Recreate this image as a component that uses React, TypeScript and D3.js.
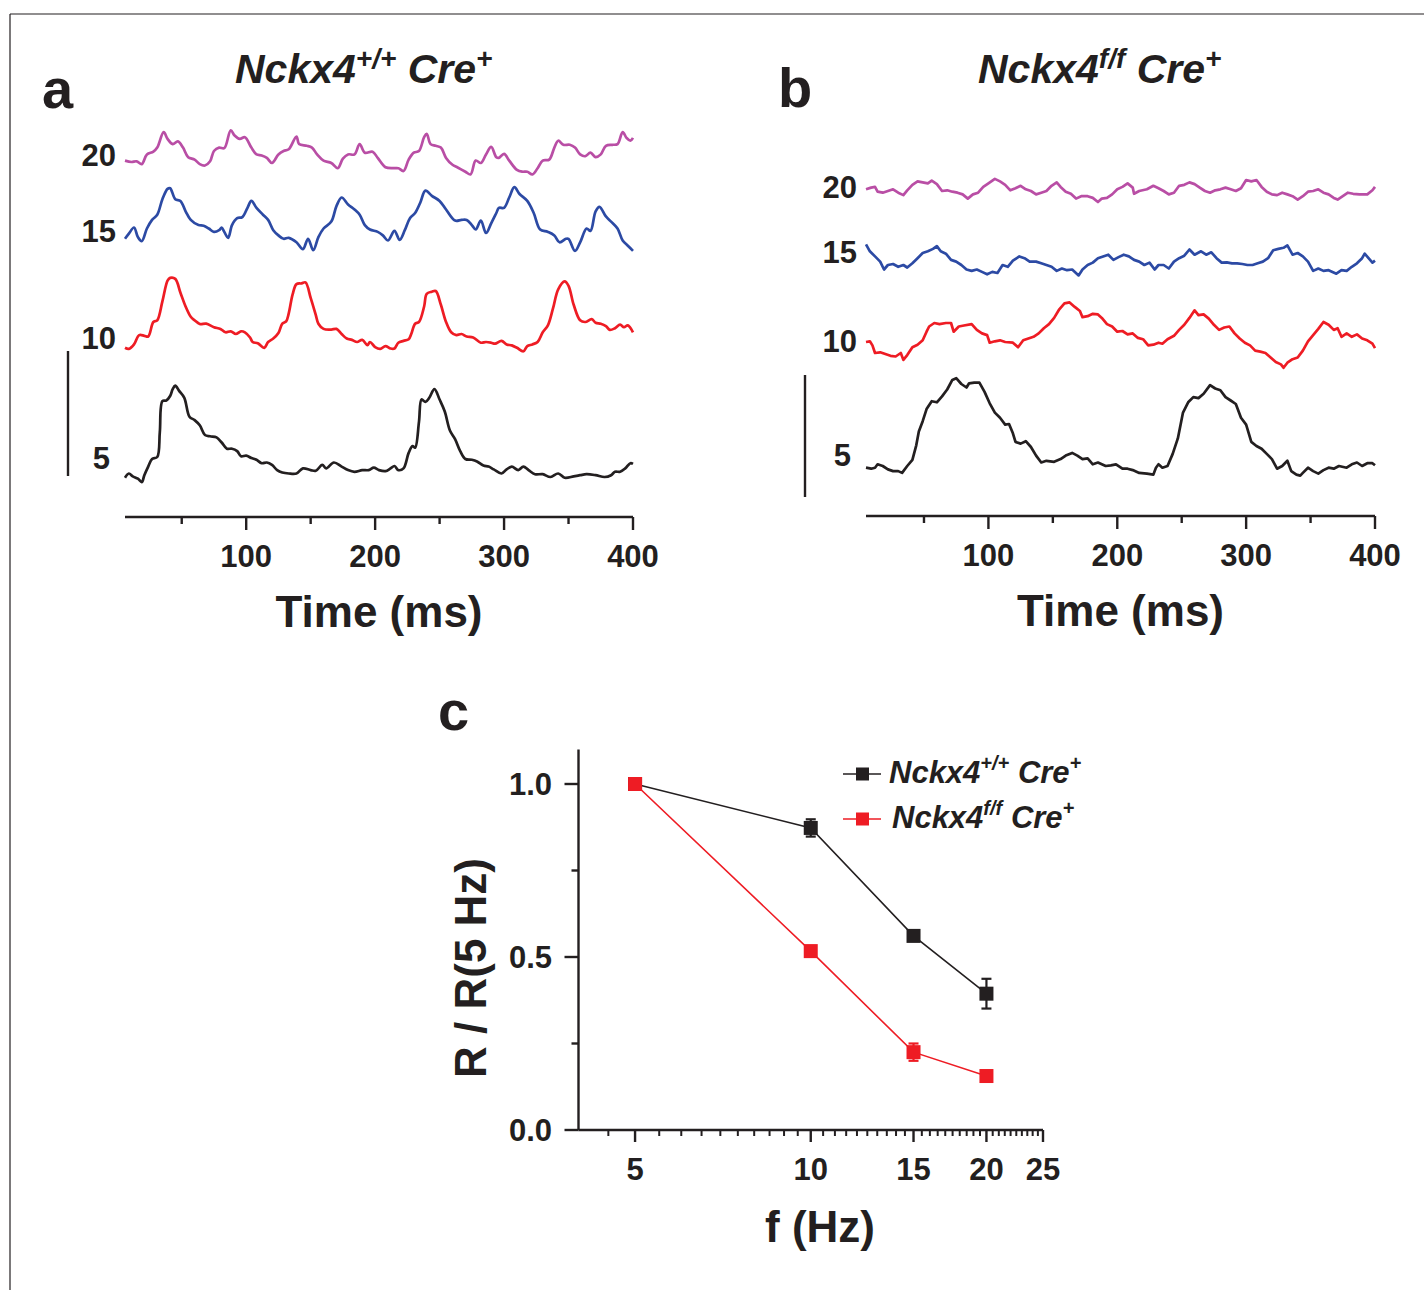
import React from "react";
import * as d3 from "d3";

// ---------- Panel a: Nckx4+/+ Cre+ traces (time ms, amplitude a.u.) ----------
const traceA20: [number, number][] = [[6,339.4],[11,338],[15,338.7],[19,335.9],[23,345.6],[28,348.3],[31,352.4],[36,367.9],[39,361.1],[43,355.9],[47,358.6],[51,352.4],[55,342.8],[60,340.4],[64,335.9],[68,334.5],[72,338.7],[75,349],[79,352.4],[83,351.8],[88,369.7],[91,364.5],[95,361.1],[99,362.8],[104,352.4],[108,345.6],[112,344.5],[116,342.1],[120,337],[125,345.6],[129,349],[133,350.7],[139,363.5],[141,355.9],[147,354.2],[151,352.4],[155,345.6],[160,339.4],[166,337],[171,331.8],[175,341.4],[179,345.6],[184,345.6],[188,355.9],[192,347.3],[198,348.3],[202,342.1],[208,332.8],[214,331.8],[218,331.8],[222,329],[226,340.4],[230,347.3],[234,349],[238,362.8],[240,366.2],[243,355.9],[247,354.2],[251,352.4],[255,342.1],[260,335.2],[264,332.5],[270,328.3],[274,325.6],[278,339.4],[282,337],[286,345.6],[290,353.1],[294,342.8],[296,342.1],[300,346.2],[304,339.4],[310,330.1],[314,328.3],[318,328.3],[322,325.6],[326,331.8],[330,339.4],[335,340.4],[339,352.4],[342,359.3],[346,355.2],[351,355.2],[355,352.4],[359,345.6],[363,343.8],[367,347.3],[371,342.8],[375,345.6],[379,354.2],[384,355.2],[388,355.9],[392,367.9],[395,362.1],[398,359.3],[400,362.1]];
const traceA15: [number, number][] = [[6,261.2],[9,266.3],[13,272.5],[16,262.9],[19,258.8],[23,271.5],[27,280.1],[31,285.3],[35,300.8],[39,311.1],[41,311.8],[45,300.8],[49,299.1],[53,288.7],[57,280.1],[63,274.9],[67,274.3],[71,271.5],[75,268.1],[79,269.8],[81,272.5],[83,268.1],[86,262.2],[89,274.9],[93,281.8],[97,282.9],[101,292.2],[104,299.1],[108,292.2],[113,285.3],[117,280.1],[121,269.8],[125,264.6],[129,261.2],[133,262.2],[139,257.7],[144,250.9],[148,261.2],[152,249.8],[156,262.9],[160,271.5],[166,278.4],[170,293.9],[174,302.5],[179,295.6],[184,290.5],[188,285.3],[192,274.9],[196,270.5],[202,268.1],[206,264.6],[210,259.5],[215,269.1],[219,260.1],[223,269.8],[227,281.8],[231,287],[235,297.3],[239,309.4],[244,304.2],[250,299.1],[255,290.5],[262,279.4],[267,280.1],[271,280.1],[275,274.9],[278,270.5],[282,279.4],[286,267],[290,276.7],[294,287],[296,292.2],[300,292.2],[304,302.5],[308,312.8],[312,306],[318,299.1],[323,287],[328,270.5],[334,268.1],[339,264.6],[343,257.7],[348,261.2],[350,261.2],[355,249.1],[359,257.7],[364,271.5],[367,269.1],[371,288.7],[374,293.2],[379,283.6],[383,278.4],[388,271.5],[392,259.5],[396,254.3],[400,249.1]];
const traceA10: [number, number][] = [[6,152.2],[9,151.1],[13,155.6],[17,164.9],[21,164.2],[24,163.5],[28,178],[31,179.7],[35,198.7],[39,219.3],[41,222.1],[45,221.1],[49,207.3],[53,193.5],[57,183.2],[60,179.7],[64,176],[69,176.3],[75,172.8],[80,171.1],[84,167.7],[88,168.7],[92,166],[96,168.7],[99,167.7],[103,162.5],[105,158],[109,156.7],[114,152.2],[117,158],[121,161.5],[125,167],[128,176.3],[131,178.7],[133,186.6],[136,205.6],[139,215.9],[143,216.6],[146,217.6],[150,202.1],[154,184.9],[156,176.3],[160,171.1],[166,170.4],[170,171.1],[174,166],[178,161.5],[182,160.1],[186,158],[190,160.1],[194,154.9],[196,158],[200,152.9],[204,151.1],[208,153.9],[212,151.5],[215,151.5],[218,157.3],[222,159.1],[226,160.8],[228,166],[231,176.3],[234,178],[238,193.5],[240,206.2],[244,208.3],[247,209],[251,195.2],[255,178],[259,167.7],[263,164.9],[267,166],[271,163.5],[276,162.5],[282,157.3],[286,158],[290,157.3],[293,156.3],[298,159.1],[302,155.6],[306,154.6],[310,152.2],[315,148.7],[318,153.9],[322,155.6],[326,158],[330,167.7],[334,174.6],[338,191.8],[342,210.7],[347,218.6],[350,214.2],[354,195.2],[359,179.7],[363,178],[368,180.8],[371,177.3],[375,176.3],[379,173.9],[382,170.1],[386,171.8],[390,175.3],[393,172.8],[396,174.6],[400,167.7]];
const traceA5: [number, number][] = [[6,22.3],[9,26.5],[12,23.7],[16,21.3],[19,17.9],[21,24.8],[24,33.4],[27,41],[31,43],[33,67.8],[35,98.8],[38,99.5],[41,104],[43,110.9],[45,114.3],[48,109.1],[52,102.2],[56,83.3],[60,79.9],[64,74.7],[68,65],[72,63.7],[77,62.6],[81,57.5],[85,51.3],[89,51.3],[93,48.9],[96,43.7],[100,44.4],[104,42],[108,40.2],[112,36.8],[116,37.5],[120,35.1],[124,29.9],[128,27.5],[133,26.5],[139,26.5],[144,31.6],[150,29.9],[154,29.2],[159,35.1],[162,31.6],[168,37.5],[174,33.4],[179,29.9],[184,28.2],[190,29.9],[195,29.9],[199,32.3],[203,29.9],[208,28.9],[212,31.6],[215,34],[218,29.9],[222,31.6],[226,47.1],[229,54],[231,52.3],[234,78.1],[236,100.5],[239,98.1],[242,102.2],[246,110.9],[250,100.5],[254,88.5],[258,69.5],[262,60.9],[266,48.9],[270,41],[275,40.2],[279,38.5],[284,34.4],[288,33.4],[292,30.6],[298,26.5],[302,30.6],[306,33.4],[311,29.9],[315,33.4],[319,29.9],[324,25.8],[330,25.8],[336,23],[342,26.5],[347,22.3],[354,23.7],[359,24.8],[364,25.8],[371,24.8],[378,23],[383,24.8],[386,28.2],[390,28.2],[394,31.6],[398,36.8],[400,36.1]];

// ---------- Panel b: Nckx4f/f Cre+ traces ----------
const traceB20: [number, number][] = [[5,330.7],[9,332.4],[12,333.1],[14,328.3],[18,327.3],[22,329],[26,330.7],[30,327.3],[34,324.9],[37,329.7],[41,335.2],[45,338.6],[49,337.6],[53,336.6],[56,339.3],[60,335.9],[64,329],[68,329.7],[72,328.3],[76,327.3],[80,325.6],[84,321.4],[88,325.6],[92,327.3],[96,333.1],[100,336.6],[105,341.1],[109,338.6],[113,335.2],[117,329.7],[121,331.8],[125,334.2],[129,330.7],[133,329],[137,325.6],[141,327.3],[145,329],[149,334.2],[153,337.6],[156,333.1],[160,328.3],[164,326.2],[168,321.4],[172,323.8],[177,323.8],[181,322.1],[185,318],[188,321.4],[192,322.1],[196,325.6],[200,330.7],[204,333.1],[208,336.6],[212,332.4],[213,326.2],[217,329],[223,330.7],[228,334.2],[232,331.8],[236,329],[240,325.6],[244,327.3],[248,334.2],[252,335.2],[256,337.6],[260,335.9],[264,332.4],[268,329],[272,327.3],[276,329.7],[280,330.7],[284,332.4],[288,330.7],[292,329],[296,331.8],[300,340],[304,338.6],[308,340],[312,333.1],[316,328.3],[320,325.6],[324,324.9],[328,327.3],[332,325.6],[336,323.8],[340,320.4],[344,323.8],[348,328.3],[352,329],[356,330.7],[360,327.3],[364,325.6],[368,322.1],[371,320.4],[375,323.8],[379,327.3],[383,326.2],[388,325.6],[394,325.6],[398,329.7],[400,333.1]];
const traceB15: [number, number][] = [[5,275.6],[8,268.7],[12,263.6],[16,258.4],[19,250.5],[22,255],[26,256],[30,253.2],[34,255],[37,252.5],[41,256.7],[45,261.8],[49,267],[53,268.7],[57,271.1],[60,273.9],[63,268.7],[67,266.3],[71,260.1],[75,258.4],[79,255],[83,250.5],[87,249.1],[91,250.5],[95,248.1],[99,245.7],[103,248.1],[107,247],[111,255],[115,253.2],[119,259.4],[124,263.6],[128,261.8],[132,258.4],[137,258.4],[141,256.7],[145,255],[149,253.2],[153,249.1],[157,251.5],[161,249.8],[165,250.5],[170,244.6],[173,250.5],[177,255],[181,257.4],[185,261.8],[189,263.6],[193,265.3],[197,260.1],[201,262.9],[205,265.3],[209,263.6],[213,260.1],[217,258.4],[221,255],[225,257.4],[229,250.5],[232,255],[236,255],[240,251.5],[244,258.4],[248,261.8],[252,264.3],[256,270.5],[260,265.3],[265,268.7],[269,265.3],[273,267.7],[277,261.8],[281,257.4],[285,257.7],[289,256.7],[293,256.7],[297,256],[301,255],[305,255],[309,256.7],[313,258.4],[317,261.8],[321,269.8],[325,271.1],[329,272.2],[332,274.6],[336,265.3],[340,267],[344,263.6],[348,258.4],[352,249.1],[356,251.5],[360,249.1],[364,249.8],[370,246.3],[374,249.8],[378,249.1],[382,253.2],[386,256.7],[390,261.8],[392,266.3],[395,261.8],[398,257.4],[400,259.4]];
const traceB10: [number, number][] = [[5,178],[8,178.7],[10,174.6],[12,167],[16,167.7],[20,166],[24,164.2],[28,163.5],[32,167],[34,160.1],[37,164.9],[41,172.8],[45,175.3],[49,179.7],[52,188.3],[54,193.5],[58,197],[62,195.9],[67,197],[71,197],[73,188.3],[77,193.5],[81,194.5],[87,195.9],[91,190.1],[95,186.6],[99,184.9],[101,177.3],[105,178.7],[109,179.7],[113,178],[119,177.3],[123,172.8],[127,179.7],[131,181.5],[135,183.2],[139,186.6],[143,191.8],[147,195.9],[151,202.1],[155,210.7],[159,216.6],[163,217.6],[167,213.1],[171,209],[173,202.8],[177,203.8],[181,206.2],[185,205.6],[188,202.1],[192,195.9],[196,193.5],[200,188.3],[204,189],[208,185.6],[212,186.6],[216,182.1],[220,180.8],[224,174.6],[228,175.3],[232,177.3],[235,176.3],[239,180.8],[244,184.2],[248,190.1],[252,195.2],[256,202.1],[260,209.7],[263,204.9],[267,205.6],[271,201.4],[275,195.2],[279,190.1],[283,192.5],[287,193.5],[291,186.6],[295,181.5],[299,177.3],[303,174.6],[307,169.4],[311,168.4],[315,167],[319,162.5],[323,158],[327,155.6],[329,152.2],[332,157.3],[336,160.8],[340,162.5],[344,169.4],[348,178.7],[352,184.9],[356,191.1],[360,198],[364,195.2],[368,190.1],[371,191.8],[374,183.2],[378,186.6],[382,183.2],[386,185.6],[390,181.5],[394,179.7],[398,176.3],[400,171.8]];
const traceB5: [number, number][] = [[5,52.3],[9,51.3],[12,52.3],[14,55.7],[18,54],[22,50.6],[26,48.9],[30,48.9],[33,47.1],[37,54],[41,60.2],[44,74.7],[46,88.5],[49,98.8],[52,110.9],[56,118.8],[60,117.7],[64,123.6],[68,130.5],[72,140.1],[75,141.8],[79,136],[83,132.5],[85,136.7],[89,137.4],[93,137.4],[97,128.1],[101,116.7],[105,107.4],[109,102.2],[113,95.4],[116,96],[119,86.7],[121,78.1],[125,76.4],[129,78.8],[133,73],[137,64.4],[141,57.5],[145,59.2],[151,58.2],[156,60.9],[160,64.4],[165,67.1],[169,64.4],[173,60.9],[177,61.6],[181,55.7],[185,57.5],[191,54],[195,54.7],[199,55.7],[204,51.3],[208,51.3],[212,49.9],[217,47.1],[223,46.4],[228,45.4],[230,52.3],[232,55.7],[235,52.3],[239,54],[243,66.1],[247,81.6],[251,107.4],[255,117.7],[259,122.9],[263,121.9],[267,126.3],[272,134.9],[276,131.5],[280,129.8],[284,122.9],[288,119.5],[292,116],[296,102.2],[300,95.4],[304,78.1],[308,74],[312,71.2],[316,66.1],[320,60.9],[324,51.3],[328,54],[332,59.2],[335,48.9],[339,45.4],[342,44.4],[344,47.1],[348,52.3],[352,48.9],[356,46.4],[360,49.9],[364,52.3],[368,51.3],[372,54],[378,52.3],[382,55.7],[386,57.5],[390,54],[394,56.8],[398,56.8],[400,54.7]];

// trace labels (stimulus frequency, Hz) and their label level (a.u.)
const traceLabels = ["20", "15", "10", "5"];
const labelLevelsA = [345, 269, 162, 42];
const labelLevelsB = [333, 268, 179, 65];
const traceColors = ["#b94ea5", "#2c4aa4", "#ee1c24", "#231f20"];
const timeTicksMajor = [100, 200, 300, 400];
const timeTicksMinor = [50, 150, 250, 350];
const scaleBarA = [24, 149];
const scaleBarB = [23, 145];
const axisLevelA = -17;
const axisLevelB = 4;

// ---------- Panel c ----------
const freqs = [5, 10, 15, 20];
const wtMean = [1.0, 0.873, 0.561, 0.394];
const wtErr = [0, 0.025, 0.012, 0.043];
const koMean = [1.0, 0.517, 0.225, 0.156];
const koErr = [0, 0.015, 0.025, 0.008];
const fTicksMajor = [5, 10, 15, 20, 25];
const rTicksMajor = [0, 0.5, 1.0];
const rTicksMinor = [0.25, 0.75];

const FONT = "'Liberation Sans', Arial, Helvetica, sans-serif";
const INK = "#231f20";

function Title({ x, y, sup }: { x: number; y: number; sup: string }) {
  return (
    <text x={x} y={y} fontFamily={FONT} fontWeight="bold" fontStyle="italic" fontSize={41} fill={INK}>
      Nckx4
      <tspan dy={-15} fontSize={28}>{sup}</tspan>
      <tspan dy={15} fontSize={41}> Cre</tspan>
      <tspan dy={-15} fontSize={28}>+</tspan>
    </text>
  );
}

function TracePanel({
  traces, x, y, levels, bar, barOffset, smooth, axisLevel,
}: {
  traces: [number, number][][]; x: d3.ScaleLinear<number, number>; y: d3.ScaleLinear<number, number>;
  levels: number[]; bar: number[]; barOffset: number; smooth: boolean; axisLevel: number;
}) {
  const line = d3.line<[number, number]>()
    .x((d) => x(d[0]))
    .y((d) => y(d[1]))
    .curve(smooth ? d3.curveCatmullRom.alpha(0.5) : d3.curveLinear);
  const [x0, x1] = x.range();
  const axisY = y(axisLevel);
  return (
    <g>
      {traces.map((t, i) => (
        <path key={i} d={line(t) || ""} fill="none" stroke={traceColors[i]} strokeWidth={2.7} strokeLinejoin="round" />
      ))}
      {traceLabels.map((lab, i) => (
        <text key={lab} x={x0 - (lab.length === 1 ? 15 : 9)} y={y(levels[i])} dy="0.36em" textAnchor="end"
          fontFamily={FONT} fontWeight="bold" fontSize={31} fill={INK}>{lab}</text>
      ))}
      <line x1={x0 - barOffset} x2={x0 - barOffset} y1={y(bar[0])} y2={y(bar[1])} stroke={INK} strokeWidth={2.4} />
      <line x1={x0} x2={x1} y1={axisY} y2={axisY} stroke={INK} strokeWidth={2.4} />
      {timeTicksMajor.map((t) => (
        <g key={t}>
          <line x1={x(t)} x2={x(t)} y1={axisY} y2={axisY + 13} stroke={INK} strokeWidth={2.4} />
          <text x={x(t)} y={axisY + 50} textAnchor="middle" fontFamily={FONT} fontWeight="bold" fontSize={31} fill={INK}>{t}</text>
        </g>
      ))}
      {timeTicksMinor.map((t) => (
        <line key={t} x1={x(t)} x2={x(t)} y1={axisY} y2={axisY + 7} stroke={INK} strokeWidth={2.4} />
      ))}
      <text x={(x0 + x1) / 2} y={axisY + 110} textAnchor="middle" fontFamily={FONT} fontWeight="bold" fontSize={44} fill={INK}>Time (ms)</text>
    </g>
  );
}

export default function App() {
  const W = 1424, H = 1290;
  const xA = d3.scaleLinear().domain([6, 400]).range([125, 633]);
  const yA = d3.scaleLinear().domain([0, 400]).range([500, 100]);
  const xB = d3.scaleLinear().domain([5, 400]).range([866, 1375]);
  const yB = d3.scaleLinear().domain([0, 400]).range([520, 120]);

  const xC = d3.scaleLog().domain([4, 25]).range([578.5, 1043]);
  const yC = d3.scaleLinear().domain([0, 1.1]).range([1130, 749.4]);
  const fMinor = d3.range(4.5, 25, 0.5).filter((f) => !fTicksMajor.includes(f));
  const lineC = d3.line<number>().x((_, i) => xC(freqs[i])).y((d) => yC(d));
  const [cx0, cx1] = xC.range();
  const cy0 = yC(0);
  const cyTop = yC.range()[1];
  const sq = 14;

  const series = [
    { mean: wtMean, err: wtErr, color: INK, sup: "+/+" },
    { mean: koMean, err: koErr, color: "#ee1c24", sup: "f/f" },
  ];

  return (
    <svg width={W} height={H} viewBox={`0 0 ${W} ${H}`} style={{ position: "absolute", left: 0, top: 0, background: "#fff" }}>
      <rect x={0} y={0} width={W} height={H} fill="#fff" />
      {/* frame */}
      <line x1={10} x2={W} y1={14} y2={14} stroke={INK} strokeWidth={1.2} />
      <line x1={10} x2={10} y1={14} y2={H} stroke={INK} strokeWidth={1.2} />

      {/* panel labels */}
      <text x={42} y={108} fontFamily={FONT} fontWeight="bold" fontSize={56} fill={INK}>a</text>
      <text x={778} y={107} fontFamily={FONT} fontWeight="bold" fontSize={56} fill={INK}>b</text>
      <text x={438} y={730} fontFamily={FONT} fontWeight="bold" fontSize={56} fill={INK}>c</text>

      <Title x={235} y={83} sup="+/+" />
      <Title x={978} y={83} sup="f/f" />

      <TracePanel traces={[traceA20, traceA15, traceA10, traceA5]} x={xA} y={yA} levels={labelLevelsA} bar={scaleBarA} barOffset={57} smooth={true} axisLevel={axisLevelA} />
      <TracePanel traces={[traceB20, traceB15, traceB10, traceB5]} x={xB} y={yB} levels={labelLevelsB} bar={scaleBarB} barOffset={61} smooth={false} axisLevel={axisLevelB} />

      {/* panel c axes */}
      <g>
        <line x1={cx0} x2={cx0} y1={cy0} y2={cyTop} stroke={INK} strokeWidth={2.4} />
        <line x1={cx0} x2={cx1} y1={cy0} y2={cy0} stroke={INK} strokeWidth={2.4} />
        {rTicksMajor.map((r) => (
          <g key={r}>
            <line x1={cx0} x2={cx0 - 14} y1={yC(r)} y2={yC(r)} stroke={INK} strokeWidth={2.4} />
            <text x={552} y={yC(r) + 11} textAnchor="end" fontFamily={FONT} fontWeight="bold" fontSize={31} fill={INK}>{r.toFixed(1)}</text>
          </g>
        ))}
        {rTicksMinor.map((r) => (
          <line key={r} x1={cx0} x2={cx0 - 7} y1={yC(r)} y2={yC(r)} stroke={INK} strokeWidth={2.4} />
        ))}
        {fTicksMajor.map((f) => (
          <g key={f}>
            <line x1={xC(f)} x2={xC(f)} y1={cy0} y2={cy0 + 12} stroke={INK} strokeWidth={2.4} />
            <text x={xC(f)} y={cy0 + 50} textAnchor="middle" fontFamily={FONT} fontWeight="bold" fontSize={31} fill={INK}>{f}</text>
          </g>
        ))}
        {fMinor.map((f) => (
          <line key={f} x1={xC(f)} x2={xC(f)} y1={cy0} y2={cy0 + 6} stroke={INK} strokeWidth={2} />
        ))}
        <text x={820} y={1242} textAnchor="middle" fontFamily={FONT} fontWeight="bold" fontSize={44} fill={INK}>f (Hz)</text>
        <text transform={`translate(486,968) rotate(-90)`} textAnchor="middle" fontFamily={FONT} fontWeight="bold" fontSize={44} fill={INK}>R / R(5 Hz)</text>
      </g>

      {/* panel c data */}
      {series.map((s, si) => (
        <g key={si}>
          <path d={lineC(s.mean) || ""} fill="none" stroke={s.color} strokeWidth={1.6} />
          {s.mean.map((m, i) => (
            <g key={i}>
              {s.err[i] > 0 && (
                <g stroke={s.color} strokeWidth={2.2}>
                  <line x1={xC(freqs[i])} x2={xC(freqs[i])} y1={yC(m - s.err[i])} y2={yC(m + s.err[i])} />
                  <line x1={xC(freqs[i]) - 5} x2={xC(freqs[i]) + 5} y1={yC(m - s.err[i])} y2={yC(m - s.err[i])} />
                  <line x1={xC(freqs[i]) - 5} x2={xC(freqs[i]) + 5} y1={yC(m + s.err[i])} y2={yC(m + s.err[i])} />
                </g>
              )}
              <rect x={xC(freqs[i]) - sq / 2} y={yC(m) - sq / 2} width={sq} height={sq} fill={s.color} />
            </g>
          ))}
        </g>
      ))}

      {/* legend */}
      {series.map((s, si) => {
        const ly = 774 + si * 45;
        return (
          <g key={si}>
            <line x1={843} x2={881} y1={ly} y2={ly} stroke={s.color} strokeWidth={1.6} />
            <rect x={856} y={ly - 6.5} width={13} height={13} fill={s.color} />
            <text x={889 + si * 3} y={ly + 9} fontFamily={FONT} fontWeight="bold" fontStyle="italic" fontSize={31} fill={INK}>
              Nckx4
              <tspan dy={-13} fontSize={20}>{s.sup}</tspan>
              <tspan dy={13} fontSize={31}>{"  "}Cre</tspan>
              <tspan dy={-13} fontSize={20}>+</tspan>
            </text>
          </g>
        );
      })}
    </svg>
  );
}
